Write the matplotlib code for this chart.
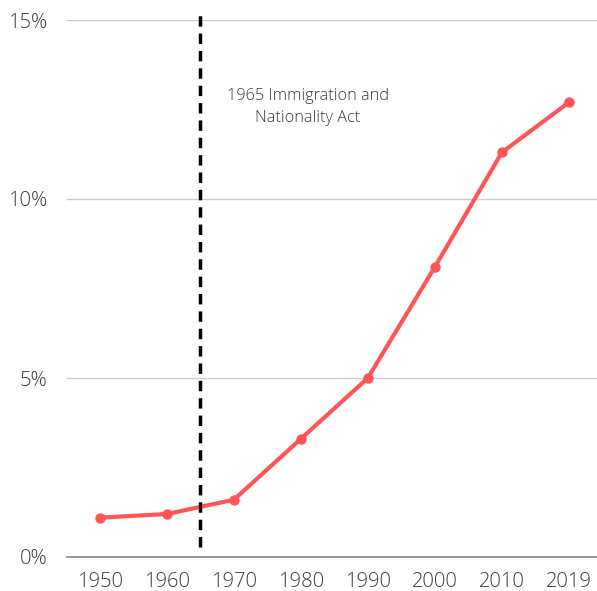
import matplotlib.pyplot as plt

years = ['1950', '1960', '1970', '1980', '1990', '2000', '2010', '2019']
share = [1.1, 1.2, 1.6, 3.3, 5.0, 8.1, 11.3, 12.7]
y_ticks = [0, 5, 10, 15]
y_labels = ['0%', '5%', '10%', '15%']
act_pos = 1.5  # 1965, halfway between 1960 and 1970
act_label = '1965 Immigration and\nNationality Act'

plt.rcParams['font.family'] = ['Open Sans', 'DejaVu Sans']
plt.rcParams['font.weight'] = 'light'

fig = plt.figure(figsize=(5.97, 5.91), dpi=100)
ax = fig.add_axes([67 / 597, 1 - 557 / 591, 530 / 597, 537 / 591])

x = list(range(len(years)))
ax.plot(x, share, '-o', color='#ff5557', linewidth=3, markersize=6.5, zorder=3)

ax.plot([act_pos, act_pos], [0.28, 15.14], color='black', linestyle=(0, (3, 2)),
        linewidth=2.5, clip_on=False, zorder=4)
ax.text(3.1, 12.57, act_label, ha='center', va='center', fontsize=11.7,
        color='#3a3a3a', linespacing=1.45)

ax.set_xlim(-0.49, 7.42)
ax.set_ylim(0, 15)
ax.set_xticks(x)
ax.set_xticklabels(years)
ax.set_yticks(y_ticks)
ax.set_yticklabels(y_labels)
ax.tick_params(length=0, labelsize=14.5, labelcolor='#3a3a3a')
ax.tick_params(axis='x', pad=11)
ax.tick_params(axis='y', pad=14)

ax.grid(axis='y', color='#cccccc', linewidth=1)
ax.set_axisbelow(True)
for side in ['top', 'right', 'left']:
    ax.spines[side].set_visible(False)
ax.spines['bottom'].set_color('#888888')
ax.spines['bottom'].set_linewidth(1.2)

fig.savefig('out.png', dpi=100)
